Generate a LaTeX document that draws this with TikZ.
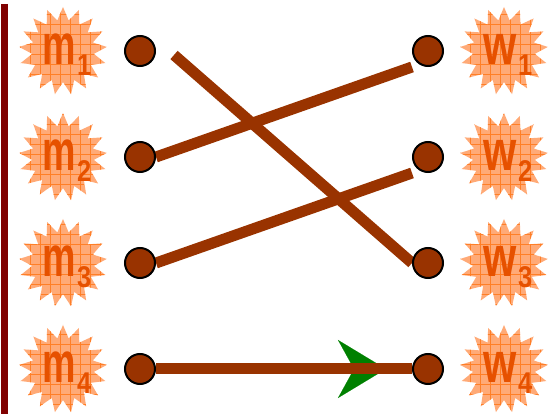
\documentclass[tikz,border=0pt]{standalone}
\usepackage{fontspec}
\usepackage{graphicx}
\newfontfamily\starfont{Liberation Sans}
\usetikzlibrary{shapes.symbols,arrows.meta,patterns.meta,backgrounds}
\definecolor{rust}{HTML}{993300}
\definecolor{burst}{HTML}{FFAA77}
\definecolor{burstline}{HTML}{FF7F27}
\definecolor{ink}{HTML}{E65100}
\definecolor{frame}{HTML}{800000}
\definecolor{leaf}{HTML}{008000}
% letter, its x-scale, index
\newcommand{\lbl}[3]{\makebox[0pt]{\raisebox{-14pt}[0pt][0pt]{\hspace*{8pt}\scalebox{#2}[1]{#1}\hspace{1pt}\raisebox{-11pt}{\fontsize{30}{30}\selectfont\scalebox{0.85}[1]{#3}}}}}

\begin{document}
\begin{tikzpicture}[x=1pt, y=-1pt,
    person/.style={starburst, starburst points=17, starburst point height=13pt, random starburst=0,
      minimum size=88pt, inner sep=0pt, preaction={fill=burst},
      pattern={Hatch[angle=0,distance=10pt,line width=0.8pt]}, pattern color=burstline,
      text=ink, font=\starfont\bfseries\fontsize{57}{57}\selectfont},
    ball/.style={circle, draw=black, line width=2pt, fill=rust, minimum size=30pt, inner sep=0pt},
    match/.style={draw=rust, line width=11pt}]
    \useasboundingbox (0,0) rectangle (550,414);

    % left frame
    \draw[frame, line width=7pt] (4.5,4) -- (4.5,414);

    % men
    \node[person] (m1) at (63,51) {\lbl{m}{0.66}{1}};
    \node[person] (m2) at (63,157) {\lbl{m}{0.66}{2}};
    \node[person] (m3) at (63,263) {\lbl{m}{0.66}{3}};
    \node[person] (m4) at (63,369) {\lbl{m}{0.66}{4}};

    % women
    \node[person] (w1) at (504,51) {\lbl{w}{0.75}{1}};
    \node[person] (w2) at (504,157) {\lbl{w}{0.75}{2}};
    \node[person] (w3) at (504,263) {\lbl{w}{0.75}{3}};
    \node[person] (w4) at (504,369) {\lbl{w}{0.75}{4}};

    % dots
    \node[ball] (m1dot) at (140,51) {};
    \node[ball] (m2dot) at (140,157) {};
    \node[ball] (m3dot) at (140,263) {};
    \node[ball] (m4dot) at (140,369) {};
    \node[ball] (w1dot) at (428,51) {};
    \node[ball] (w2dot) at (428,157) {};
    \node[ball] (w3dot) at (428,263) {};
    \node[ball] (w4dot) at (428,369) {};

    \coordinate (tip4) at (386,369);

    \begin{scope}[on background layer]
    % green arrow under the last pair
    \draw[leaf, line width=0.1pt, -{Stealth[length=48pt,width=58pt,inset=16pt]}] (m4dot) -- (tip4);

    % pairs
    \draw[match] ([xshift=18pt,yshift=-4pt]m1dot.east) -- (w3dot.west);
    \draw[match] (m2dot.east) -- ([yshift=-16pt]w1dot.west);
    \draw[match] (m3dot.east) -- ([yshift=-16pt]w2dot.west);
    \draw[match] (m4dot) -- (w4dot);
    \end{scope}
\end{tikzpicture}
\end{document}
